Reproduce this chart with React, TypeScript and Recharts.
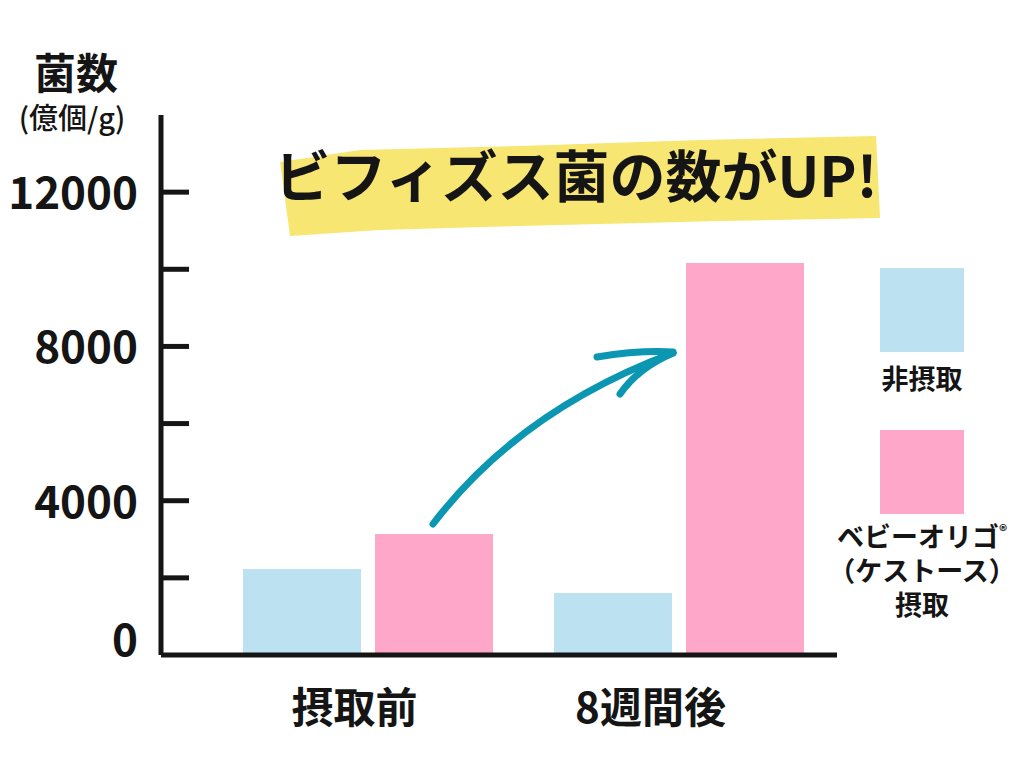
import { BarChart, Bar, XAxis, YAxis, Legend } from 'recharts';

const CATEGORIES = ['摂取前', '8週間後'];
const NON_INTAKE = [2230, 1610];
const KESTOSE = [3140, 10160];
const Y_TICKS = [0, 2000, 4000, 6000, 8000, 10000, 12000];
const Y_LABELED = [0, 4000, 8000, 12000];
const SERIES_NAMES = ['非摂取', 'ベビーオリゴ®\n（ケストース）\n摂取'];
const SERIES_COLORS = ['#bce2f1', '#fea7c8'];

const data = CATEGORIES.map((c, i) => ({ name: c, a: NON_INTAKE[i], b: KESTOSE[i] }));

const FONT = '"Noto Sans CJK JP", "Noto Sans", sans-serif';
const INK = '#151515';
const AXIS_X = 161;
const LABEL_SHIFT = [-13, -28];

function YTick({ y, payload }: { y?: number; payload?: { value: number } }) {
  const v = payload?.value ?? 0;
  const yy = y ?? 0;
  return (
    <g>
      {v !== 0 && <line x1={AXIS_X} x2={AXIS_X + 28} y1={yy} y2={yy} stroke={INK} strokeWidth={5} />}
      {Y_LABELED.includes(v) && (
        <text x={138} y={v === 0 ? yy - 18 : yy - 2} textAnchor="end" dominantBaseline="central"
          fontFamily={FONT} fontWeight={700} fontSize={44} fill={INK}>
          {v}
        </text>
      )}
    </g>
  );
}

function XTick({ x, y, payload, index }: { x?: number; y?: number; payload?: { value: string }; index?: number }) {
  return (
    <text x={(x ?? 0) + LABEL_SHIFT[index ?? 0]} y={(y ?? 0) + 49} textAnchor="middle" dominantBaseline="central"
      fontFamily={FONT} fontWeight={700} fontSize={42} fill={INK}>
      {payload?.value}
    </text>
  );
}

function LegendBox({ payload }: { payload?: Array<{ value: string; color: string }> }) {
  if (!payload) return null;
  const items = [...payload].sort((p, q) => SERIES_NAMES.indexOf(p.value) - SERIES_NAMES.indexOf(q.value));
  return (
    <div style={{ display: 'flex', flexDirection: 'column', alignItems: 'center', fontFamily: FONT, fontWeight: 700, color: INK }}>
      {items.map((p, i) => (
        <div key={i} style={{ display: 'flex', flexDirection: 'column', alignItems: 'center', marginBottom: 35 }}>
          <div style={{ width: 84, height: 84, background: p.color }} />
          <div style={{ marginTop: i === 0 ? 9 : 5, fontSize: 27, lineHeight: '34px', textAlign: 'center', whiteSpace: 'nowrap' }}>
            {p.value.split('\n').map((line, j) => (
              <div key={j}>
                {line.split('®').map((part, k, arr) => (
                  <span key={k}>
                    {part}
                    {k < arr.length - 1 && <sup style={{ fontSize: 16, lineHeight: 0 }}>®</sup>}
                  </span>
                ))}
              </div>
            ))}
          </div>
        </div>
      ))}
    </div>
  );
}

export default function App() {
  return (
    <div style={{ position: 'absolute', left: 0, top: 0, width: 1024, height: 768, background: '#fff' }}>
      <BarChart width={1024} height={768} data={data} margin={{ top: 115, right: 187, bottom: 53, left: 0 }}
        barSize={118} barGap={14} style={{ fontFamily: FONT }}>
        <XAxis dataKey="name" height={60} padding={{ left: 51, right: 3 }} tickLine={false} tickSize={0} tickMargin={0}
          axisLine={{ stroke: INK, strokeWidth: 5 }} tick={<XTick />} interval={0} />
        <YAxis width={161} domain={[0, 14000]} ticks={Y_TICKS} interval={0} tickLine={false}
          axisLine={{ stroke: INK, strokeWidth: 5 }} tick={<YTick />} />
        <Legend layout="horizontal" verticalAlign="middle" align="center" content={<LegendBox />}
          wrapperStyle={{ left: 830, top: 268, width: 184 }} />
        <Bar dataKey="a" name={SERIES_NAMES[0]} fill={SERIES_COLORS[0]} isAnimationActive={false} />
        <Bar dataKey="b" name={SERIES_NAMES[1]} fill={SERIES_COLORS[1]} isAnimationActive={false} />
      </BarChart>
      <svg width={1024} height={768} style={{ position: 'absolute', left: 0, top: 0, pointerEvents: 'none' }}>
        <text x={76} y={70} textAnchor="middle" dominantBaseline="central" fontFamily={FONT} fontWeight={700} fontSize={42} fill={INK}>菌数</text>
        <text x={72} y={116} textAnchor="middle" dominantBaseline="central" fontFamily={FONT} fontWeight={500} fontSize={29} fill={INK}>(億個/g)</text>
        <path d="M280,162 L360,150 L520,146 L700,140 L876,136 L880,218 L720,221 L520,226 L380,230 L290,236 Z" fill="#f8e672" />
        <text x={576} y={197} textAnchor="middle" fontFamily={FONT} fontWeight={700} fontSize={56} fill={INK}>ビフィズス菌の数がUP!</text>
        <g fill="none" stroke="#0b97b2" strokeWidth={7} strokeLinecap="round">
          <path d="M433,524 Q520,410 673,353" />
          <path d="M597,357 Q640,350 673,352" />
          <path d="M620,394 Q638,368 673,353" />
        </g>
      </svg>
    </div>
  );
}
